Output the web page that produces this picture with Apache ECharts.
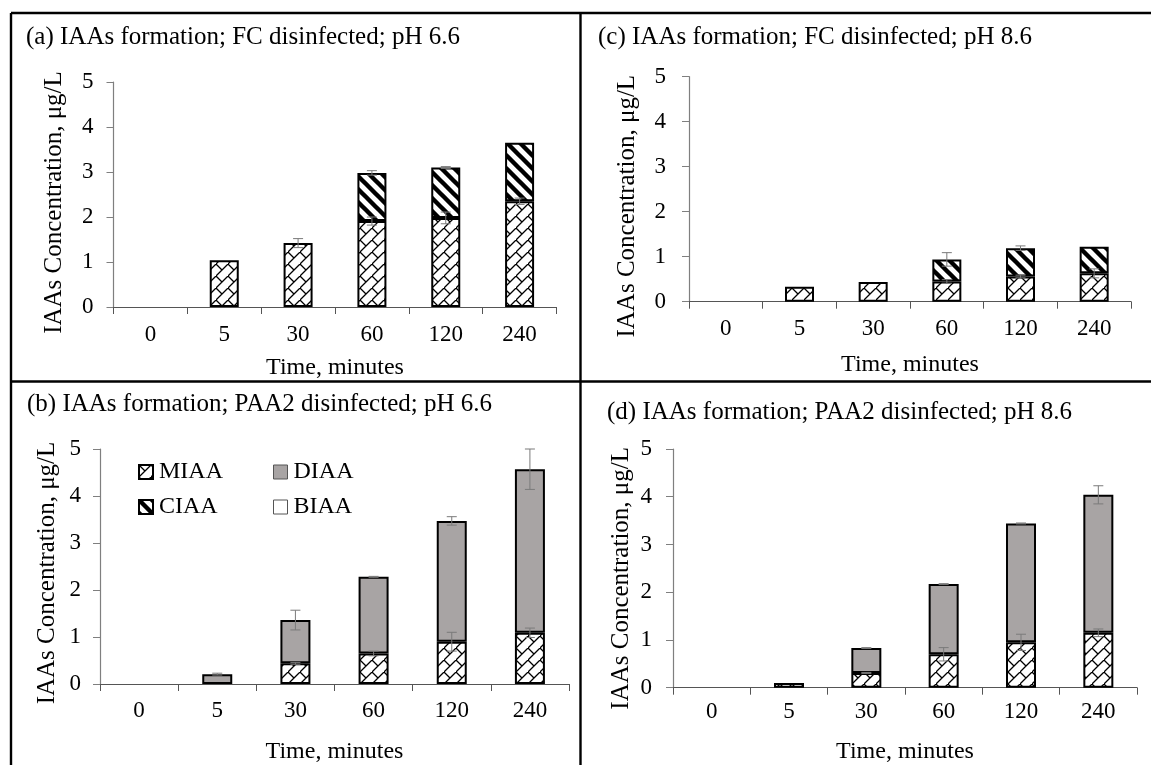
<!DOCTYPE html>
<html><head><meta charset="utf-8">
<script src="https://cdn.jsdelivr.net/npm/echarts@6/dist/echarts.min.js"></script>
<style>html,body{margin:0;padding:0;background:#fff}#c{width:1151px;height:765px}</style>
</head><body><div id="c"></div>
<script>
// ---------- data ----------
const categories = ['0', '5', '30', '60', '120', '240'];
// (a) FC, pH 6.6
const aMIAA = ['-', 1.04, 1.42, 1.91, 1.98, 2.35];
const aCIAA = ['-', '-', '-', 1.07, 1.12, 1.30];
const aMIAAerr = [0, 0, 0.10, 0.09, 0.13, 0.07];
const aTotalErr = [0, 0, 0, 0.05, 0.02, 0];
// (c) FC, pH 8.6
const cMIAA = ['-', 0.33, 0.44, 0.45, 0.56, 0.63];
const cCIAA = ['-', '-', '-', 0.49, 0.63, 0.59];
const cMIAAerr = [0, 0, 0, 0.04, 0.03, 0.10];
const cTotalErr = [0, 0, 0, 0.15, 0.05, 0];
// (b) PAA2, pH 6.6
const bMIAA = ['-', '-', 0.44, 0.65, 0.90, 1.09];
const bDIAA = ['-', 0.21, 0.92, 1.63, 2.57, 3.48];
const bMIAAerr = [0, 0, 0.02, 0.05, 0.20, 0.10];
const bTotalErr = [0, 0.02, 0.21, 0.01, 0.09, 0.43];
// (d) PAA2, pH 8.6
const dMIAA = ['-', 0.10, 0.31, 0.70, 0.95, 1.15];
const dDIAA = ['-', '-', 0.52, 1.47, 2.49, 2.89];
const dMIAAerr = [0, 0, 0.01, 0.14, 0.17, 0.08];
const dTotalErr = [0, 0, 0.01, 0.01, 0.01, 0.19];
const BIAA = ['-', '-', '-', '-', '-', '-'];

const titles = [
  '(a) IAAs formation; FC disinfected; pH 6.6',
  '(b) IAAs formation; PAA2 disinfected; pH 6.6',
  '(c) IAAs formation; FC disinfected; pH 8.6',
  '(d) IAAs formation; PAA2 disinfected; pH 8.6'
];
const xName = 'Time, minutes';
const yName = 'IAAs Concentration, \u03bcg/L';

// ---------- patterns ----------
function mkCanvas(n) { const c = document.createElement('canvas'); c.width = n; c.height = n; return c; }
const miaaCanvas = (function () {
  const n = 12, c = mkCanvas(n), g = c.getContext('2d');
  g.fillStyle = '#fff'; g.fillRect(0, 0, n, n);
  g.strokeStyle = '#000'; g.lineWidth = 1.3;
  g.beginPath();
  g.moveTo(-1, n + 1); g.lineTo(n + 1, -1);
  g.moveTo(0, 0); g.lineTo(n / 2, n / 2);
  g.stroke();
  return c;
})();
const ciaaCanvas = (function () {
  const n = 13, c = mkCanvas(n), g = c.getContext('2d');
  g.fillStyle = '#fff'; g.fillRect(0, 0, n, n);
  g.strokeStyle = '#000'; g.lineWidth = 4.4;
  g.beginPath();
  [-n, 0, n].forEach(function (o) { g.moveTo(o - 2, -2); g.lineTo(o + n + 2, n + 2); });
  g.stroke();
  return c;
})();
const MIAA_FILL = { image: miaaCanvas, repeat: 'repeat' };
const CIAA_FILL = { image: ciaaCanvas, repeat: 'repeat' };
const DIAA_FILL = '#a8a4a4';

const FONT = 'Liberation Serif';

function sumArr(a, b) { return a.map(function (v, i) { const x = v === '-' ? 0 : v; const y = b[i] === '-' ? 0 : b[i]; return x + y; }); }
function errData(center, err) {
  const out = [];
  center.forEach(function (c, i) { if (err[i] > 0 && c !== '-') out.push([i, c, err[i]]); });
  return out;
}
function errRender(params, api) {
  const x = api.value(0), c = api.value(1), e = api.value(2);
  const t = api.coord([x, c + e]), b = api.coord([x, c - e]);
  const hw = 5, st = { stroke: '#7a7a7a', lineWidth: 1 };
  return { type: 'group', children: [
    { type: 'line', shape: { x1: t[0], y1: t[1], x2: b[0], y2: b[1] }, style: st },
    { type: 'line', shape: { x1: t[0] - hw, y1: t[1], x2: t[0] + hw, y2: t[1] }, style: st },
    { type: 'line', shape: { x1: b[0] - hw, y1: b[1], x2: b[0] + hw, y2: b[1] }, style: st }
  ] };
}

const grids = [
  { left: 113.5, top: 82, width: 443, height: 225 },    // a
  { left: 100, top: 449, width: 469, height: 235 },     // b
  { left: 689, top: 76.7, width: 442, height: 225 },    // c
  { left: 673, top: 449, width: 464, height: 238.7 }    // d
];
const xGaps = [49, 56, 51, 52];
const yGaps = [47, 40, 49, 39];
const yNameShift = [16, 13, 34, 20];
const yLabMargin = [20, 19, 23, 21];
const xLabMargin = [16, 15, 16, 13];

const xAxes = grids.map(function (g, i) {
  return {
    type: 'category', gridIndex: i, data: categories,
    name: xName, nameLocation: 'middle', nameGap: xGaps[i],
    nameTextStyle: { fontFamily: FONT, fontSize: 24, color: '#000' },
    axisLine: { lineStyle: { color: '#555', width: 1.2 } },
    axisTick: { show: true, alignWithLabel: false, length: 7, lineStyle: { color: '#555' } },
    axisLabel: { fontFamily: FONT, fontSize: 23, color: '#000', margin: xLabMargin[i] },
    splitLine: { show: false }
  };
});
const yAxes = grids.map(function (g, i) {
  return {
    type: 'value', gridIndex: i, min: 0, max: 5, interval: 1,
    name: yName, nameLocation: 'middle', nameGap: yGaps[i],
    nameTextStyle: { fontFamily: FONT, fontSize: 25, color: '#000', padding: [0, yNameShift[i], 0, 0] },
    axisLine: { show: true, lineStyle: { color: '#7f7f7f', width: 1.2 } },
    axisTick: { show: true, length: 7, lineStyle: { color: '#7f7f7f' } },
    axisLabel: { fontFamily: FONT, fontSize: 23, color: '#000', margin: yLabMargin[i] },
    splitLine: { show: false }
  };
});

function bar(name, data, gi, fill, bw) {
  return {
    type: 'bar', name: name, data: data, xAxisIndex: gi, yAxisIndex: gi, stack: 's' + gi,
    barWidth: bw, itemStyle: { color: fill, borderColor: '#000', borderWidth: 2 },
    emphasis: { disabled: true }, animation: false
  };
}
function errSeries(gi, center, err) {
  return {
    type: 'custom', xAxisIndex: gi, yAxisIndex: gi, renderItem: errRender,
    data: errData(center, err), encode: { x: 0, y: 1 }, z: 10, animation: false, silent: true
  };
}

const series = [
  bar('MIAA', aMIAA, 0, MIAA_FILL, 29),
  bar('CIAA', aCIAA, 0, CIAA_FILL, 29),
  errSeries(0, aMIAA, aMIAAerr),
  errSeries(0, sumArr(aMIAA, aCIAA), aTotalErr),
  bar('MIAA', bMIAA, 1, MIAA_FILL, 30),
  bar('DIAA', bDIAA, 1, DIAA_FILL, 30),
  bar('BIAA', BIAA, 1, '#fff', 30),
  errSeries(1, bMIAA, bMIAAerr),
  errSeries(1, sumArr(bMIAA, bDIAA), bTotalErr),
  bar('MIAA', cMIAA, 2, MIAA_FILL, 29),
  bar('CIAA', cCIAA, 2, CIAA_FILL, 29),
  errSeries(2, cMIAA, cMIAAerr),
  errSeries(2, sumArr(cMIAA, cCIAA), cTotalErr),
  bar('MIAA', dMIAA, 3, MIAA_FILL, 30),
  bar('DIAA', dDIAA, 3, DIAA_FILL, 30),
  errSeries(3, dMIAA, dMIAAerr),
  errSeries(3, sumArr(dMIAA, dDIAA), dTotalErr)
];

function legendItem(name, left, top, style) {
  return {
    data: [{ name: name, icon: 'rect', itemStyle: style }], left: left, top: top,
    itemWidth: 14, itemHeight: 14, itemGap: 0, padding: 0, selectedMode: false,
    textStyle: { fontFamily: FONT, fontSize: 24, color: '#000', padding: [0, 0, 0, 1] }
  };
}
const legends = [
  legendItem('MIAA', 138, 460, { borderColor: '#000', borderWidth: 2 }),
  legendItem('DIAA', 273, 460, { borderColor: '#555', borderWidth: 1 }),
  legendItem('CIAA', 138, 495, { borderColor: '#000', borderWidth: 2 }),
  legendItem('BIAA', 273, 495, { borderColor: '#555', borderWidth: 1 })
];

const titleBoxes = [
  { text: titles[0], left: 26, top: 25 },
  { text: titles[1], left: 27, top: 392 },
  { text: titles[2], left: 598, top: 25 },
  { text: titles[3], left: 607, top: 400 }
].map(function (t) {
  return { text: t.text, left: t.left, top: t.top, padding: 0,
    textStyle: { fontFamily: FONT, fontSize: 25, fontWeight: 'normal', color: '#000' } };
});

const frameStyle = { stroke: '#000', lineWidth: 2.4 };
const graphic = [
  { type: 'line', shape: { x1: 11, y1: 13, x2: 11, y2: 765 }, style: frameStyle },
  { type: 'line', shape: { x1: 11, y1: 13, x2: 1151, y2: 13 }, style: frameStyle },
  { type: 'line', shape: { x1: 580.5, y1: 13, x2: 580.5, y2: 765 }, style: frameStyle },
  { type: 'line', shape: { x1: 11, y1: 381.5, x2: 1151, y2: 381.5 }, style: frameStyle }
];

const chart = echarts.init(document.getElementById('c'), null, { renderer: 'canvas' });
chart.setOption({
  backgroundColor: '#fff',
  animation: false,
  title: titleBoxes,
  legend: legends,
  grid: grids,
  xAxis: xAxes,
  yAxis: yAxes,
  series: series,
  graphic: graphic
});
</script></body></html>
